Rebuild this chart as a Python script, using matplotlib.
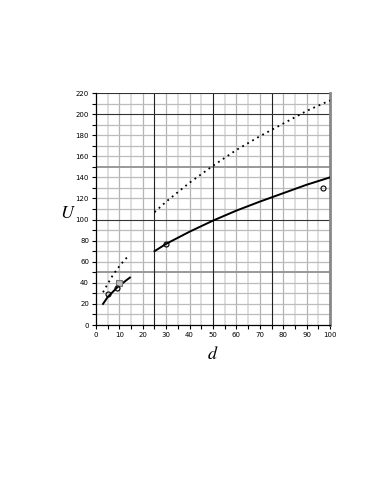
import matplotlib
matplotlib.use("Agg")
import matplotlib.pyplot as plt

plt.rcParams["mathtext.fontset"] = "stix"

# Data
d_big = [25, 30, 40, 50, 60, 70, 80, 90, 100]
U_big_dotted = [107, 117, 135, 151, 166, 179, 191, 203, 213]
U_big_solid = [70, 77, 88.5, 99, 108.5, 117, 125, 133, 140]
d_small_dotted = [3, 5, 7, 9, 11, 13, 14]
U_small_dotted = [31, 39, 46.5, 53, 58.5, 63.5, 66]
d_small_solid = [3, 5, 7, 9, 11, 13, 14.5]
U_small_solid = [20, 26.5, 31, 35.5, 39, 42.5, 45]
circ_d = [5, 9, 30, 97]
circ_U = [29, 35, 77, 130]
sq_d = [10]
sq_U = [40]
xticks = list(range(0, 101, 10))
yticks = list(range(0, 221, 20))

fig = plt.figure(figsize=(3.82, 4.94), dpi=100)
ax = fig.add_axes([0.2513, 0.3421, 0.6126, 0.4696])
ax.set_xlim(0, 100)
ax.set_ylim(0, 220)

# grid
for x in range(5, 100, 5):
    if x in (25, 50, 75):
        ax.axvline(x, color="#222222", lw=0.8, zorder=1)
    elif x % 10 == 0:
        ax.axvline(x, color="#b4b4b4", lw=0.9, zorder=0.5)
    else:
        ax.axvline(x, color="#dcdcdc", lw=1.3, zorder=0.4)
for y in range(10, 221, 10):
    if y in (100, 200, 220):
        ax.axhline(y, color="#333333", lw=0.8, zorder=1)
    elif y in (50, 150):
        ax.axhline(y, color="#999999", lw=1.4, zorder=0.8)
    else:
        ax.axhline(y, color="#bcbcbc", lw=0.9, zorder=0.5)

dot = (0, (1, 2.2))
ax.plot(d_big, U_big_dotted, color="black", lw=1.3, linestyle=dot, zorder=3)
ax.plot(d_big, U_big_solid, color="black", lw=1.4, zorder=3)
ax.plot(d_small_dotted, U_small_dotted, color="black", lw=1.3, linestyle=dot, zorder=3)
ax.plot(d_small_solid, U_small_solid, color="black", lw=1.4, zorder=3)
ax.plot(sq_d, sq_U, linestyle="none", marker="s", ms=4.5, mfc="#bbbbbb", mec="#777777", mew=0.8, zorder=4)
ax.plot(circ_d, circ_U, linestyle="none", marker="o", ms=3.6, mfc="none", mec="black", mew=0.8, zorder=5)

ax.spines["top"].set_visible(False)
ax.spines["right"].set_color("#888888")
ax.spines["right"].set_linewidth(2)
ax.spines["left"].set_linewidth(0.9)
ax.spines["bottom"].set_linewidth(0.9)

ax.set_xticks(xticks)
ax.set_xticks(range(5, 100, 10), minor=True)
ax.set_yticks(yticks)
ax.set_yticks(range(10, 220, 20), minor=True)
ax.tick_params(axis="both", which="both", length=3, width=0.8, labelsize=5, pad=2, direction="out")
ax.tick_params(right=False, top=False)

ax.set_xlabel("$d$", fontsize=13, labelpad=5)
ax.set_ylabel("$U$", fontsize=13, rotation=0, va="center")
ax.yaxis.set_label_coords(-0.12, 0.483)
fig.savefig("out.png", dpi=100)
